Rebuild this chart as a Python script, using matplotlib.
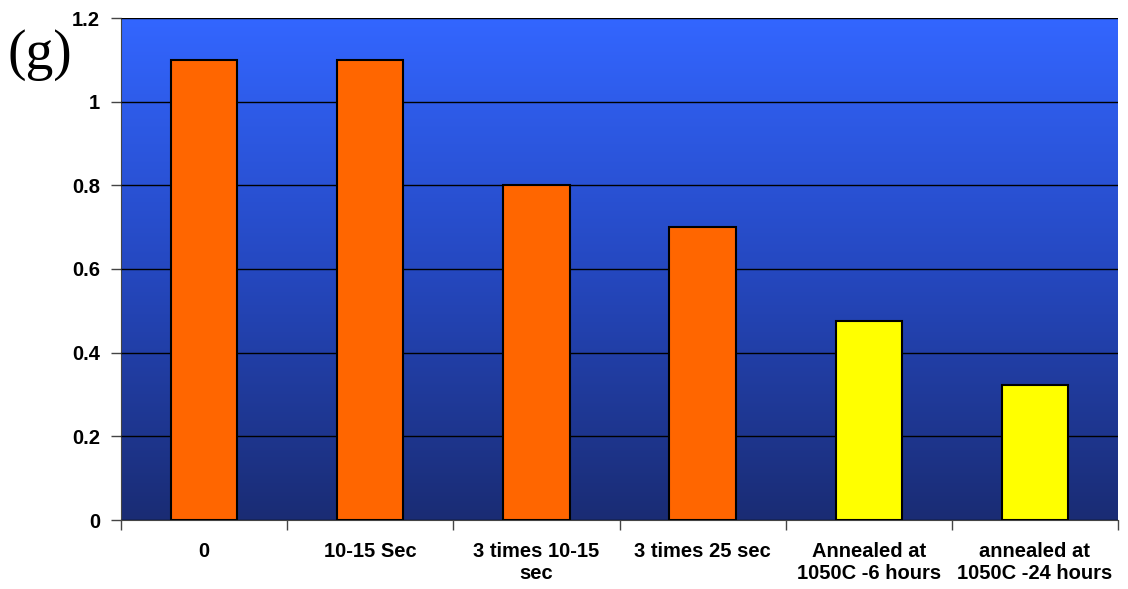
import numpy as np
import matplotlib.pyplot as plt
from matplotlib.colors import LinearSegmentedColormap

# categories and values
categories = ["0", "10-15 Sec", "3 times 10-15\nsec", "3 times 25 sec",
              "Annealed at\n1050C -6 hours", "annealed at\n1050C -24 hours"]
values = [1.1, 1.1, 0.8, 0.7, 0.475, 0.322]
colors = ["#FF6600", "#FF6600", "#FF6600", "#FF6600", "#FFFF00", "#FFFF00"]

plt.rcParams['font.family'] = ['Liberation Sans', 'DejaVu Sans']

fig = plt.figure(figsize=(11.28, 5.89), dpi=100)
ax = fig.add_axes([121/1128, 69/589, 997/1128, 502/589])

# vertical gradient background
grad = np.linspace(0, 1, 256).reshape(-1, 1)
cmap = LinearSegmentedColormap.from_list("bg", ["#1A2C74", "#2548C0", "#3366FF"])
ax.imshow(grad, aspect='auto', cmap=cmap, origin='lower',
          extent=[0, 1, 0, 1], transform=ax.transAxes, zorder=0)

x = np.arange(len(categories))
ax.bar(x, values, width=0.4, color=colors, edgecolor='black', linewidth=1.5, zorder=3)

ax.set_xlim(-0.5, len(categories) - 0.5)
ax.set_ylim(0, 1.2)
ax.set_yticks(np.arange(0, 1.21, 0.2))
ax.set_yticklabels(["0", "0.2", "0.4", "0.6", "0.8", "1", "1.2"])
ax.yaxis.grid(True, color='black', linewidth=1, zorder=1)
ax.set_axisbelow(False)

# category ticks between bars, labels centred under bars
ax.set_xticks(np.arange(-0.5, len(categories)), minor=False)
ax.set_xticklabels([])
ax.set_xticks(x, minor=True)
ax.set_xticklabels(categories, minor=True, fontsize=14.5, fontweight='bold',
                   linespacing=1.2, va='top')
ax.tick_params(axis='x', which='minor', length=0, pad=16)
ax.tick_params(axis='x', which='major', length=7, width=1, color='#444444')
ax.tick_params(axis='y', length=7, width=1, color='#444444', labelsize=14.5, pad=8)
for lab in ax.get_yticklabels():
    lab.set_fontweight('bold')

for s in ['top', 'right']:
    ax.spines[s].set_visible(False)
ax.spines['left'].set_color('#444444')
ax.spines['bottom'].set_color('#444444')

fig.text(7/1128, 1 - 55/589, "(g)", fontsize=40, family=['Liberation Serif', 'DejaVu Serif'],
         va='center', ha='left')

fig.savefig("out.png", dpi=100)
